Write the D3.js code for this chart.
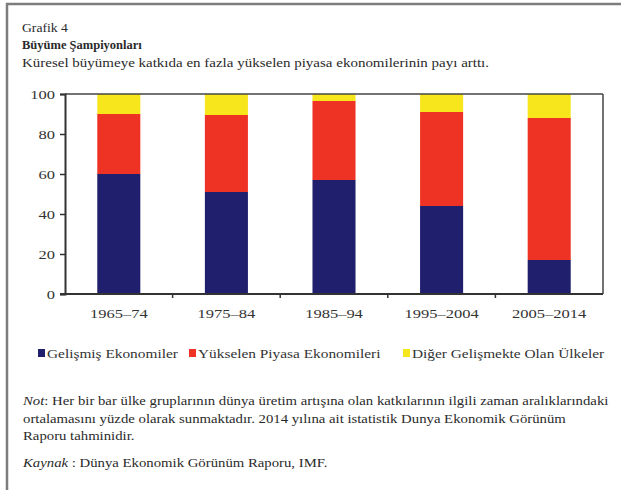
<!DOCTYPE html>
<html><head><meta charset="utf-8">
<script src="https://cdn.jsdelivr.net/npm/d3@7"></script>
<style>body{margin:0;background:#fff}svg{display:block}</style>
</head><body><svg id="c" width="621" height="490" style="font-family:'Liberation Serif',serif"></svg>
<script>
const categories = ["1965–74","1975–84","1985–94","1995–2004","2005–2014"];
const seriesNames = ["Gelişmiş Ekonomiler","Yükselen Piyasa Ekonomileri","Diğer Gelişmekte Olan Ülkeler"];
const gelismis = [60, 51, 57, 44, 17];
const yukselen = [30, 38.5, 39.5, 47, 71];
const diger = [10, 10.5, 3.5, 9, 12];
const yTicks = [0,20,40,60,80,100];
const colors = ["#1f1f6e","#ee3324","#f7e61c"];
const FONT = "'Liberation Serif', serif";

const svg = d3.select("#c");
// text placed at (x,y), horizontally stretched by sx
function T(parent, x, y, size, sx, str, anchor){
  const t = parent.append("text")
    .attr("transform",`translate(${x},${y}) scale(${sx},1)`)
    .attr("text-anchor", anchor || "start")
    .style("font-family",FONT).style("font-size",size+"px").style("fill","#2a2a2a");
  if (str !== undefined) t.text(str);
  return t;
}

// frame
svg.append("line").attr("x1",6).attr("x2",621).attr("y1",4).attr("y2",4).attr("stroke","#7d7d7d").attr("stroke-width",2.5);
svg.append("line").attr("x1",7).attr("x2",7).attr("y1",3).attr("y2",490).attr("stroke","#7d7d7d").attr("stroke-width",2.5);

T(svg,22,32,12,1.14,"Grafik 4");
T(svg,22,49,12.5,1.0,"Büyüme Şampiyonları").style("font-weight","bold");
T(svg,22,67,12.5,1.2,"Küresel büyümeye katkıda en fazla yükselen piyasa ekonomilerinin payı arttı.");

const m = {l:65, r:603, t:94, b:294};
const x = d3.scaleBand().domain(categories).range([m.l, m.r]).paddingInner(0.6).paddingOuter(0.3);
const y = d3.scaleLinear().domain([0,100]).range([m.b, m.t]);

const data = categories.map((c,i)=>({cat:c, s0:gelismis[i], s1:yukselen[i], s2:diger[i]}));
const stack = d3.stack().keys(["s0","s1","s2"])(data);
svg.append("g").selectAll("g").data(stack).join("g").attr("fill",(d,i)=>colors[i])
  .selectAll("rect").data(d=>d).join("rect")
  .attr("x",d=>x(d.data.cat)).attr("width",x.bandwidth())
  .attr("y",d=>y(Math.min(100,d[1]))).attr("height",d=>y(d[0])-y(Math.min(100,d[1])));

// plot box top/right
svg.append("line").attr("x1",m.l).attr("x2",m.r).attr("y1",m.t).attr("y2",m.t).attr("stroke","#444").attr("stroke-width",1.5);
svg.append("line").attr("x1",m.r).attr("x2",m.r).attr("y1",m.t).attr("y2",m.b).attr("stroke","#444").attr("stroke-width",1.5);

// y axis
const ya = svg.append("g").attr("transform",`translate(${m.l},0)`)
  .call(d3.axisLeft(y).tickValues(yTicks).tickSize(5).tickFormat(""));
ya.select(".domain").attr("stroke","#333").attr("stroke-width",2);
ya.selectAll(".tick line").attr("stroke","#333").attr("stroke-width",1.5);
yTicks.forEach(v=>{
  T(svg, m.l-10, y(v)+4.5, 13, 1.27, String(v), "end").style("fill","#333");
});

// x axis
svg.append("line").attr("x1",m.l-5).attr("x2",m.r).attr("y1",m.b).attr("y2",m.b).attr("stroke","#333").attr("stroke-width",2);
const bounds = categories.slice(1).map(c=>x(c) - x.step()*x.paddingInner()/2);
svg.append("g").selectAll("line").data(bounds).join("line")
  .attr("x1",d=>d).attr("x2",d=>d).attr("y1",m.b).attr("y2",m.b+4).attr("stroke","#333").attr("stroke-width",1.5);
categories.forEach(c=>{
  T(svg, x(c)+x.bandwidth()/2, 318, 13, 1.27, c, "middle").style("fill","#333");
});

// legend
const legX = [38, 189, 403];
const lg = svg.append("g");
seriesNames.forEach((n,i)=>{
  lg.append("rect").attr("x",legX[i]).attr("y",349).attr("width",7).attr("height",8).attr("fill",colors[i]);
  T(lg, legX[i]+9, 358, 12.8, 1.2, n).style("fill","#333");
});

// notes
const NS = 12.2, NX = 1.21;
const n1 = T(svg,23,405,NS,NX);
n1.append("tspan").style("font-style","italic").text("Not");
n1.append("tspan").text(": Her bir bar ülke gruplarının dünya üretim artışına olan katkılarının ilgili zaman aralıklarındaki");
T(svg,23,423,NS,NX,"ortalamasını yüzde olarak sunmaktadır. 2014 yılına ait istatistik Dunya Ekonomik Görünüm");
T(svg,23,440,NS,NX,"Raporu tahminidir.");
const n4 = T(svg,23,467,NS,NX);
n4.append("tspan").style("font-style","italic").text("Kaynak");
n4.append("tspan").text(" : Dünya Ekonomik Görünüm Raporu, IMF.");
</script></body></html>
